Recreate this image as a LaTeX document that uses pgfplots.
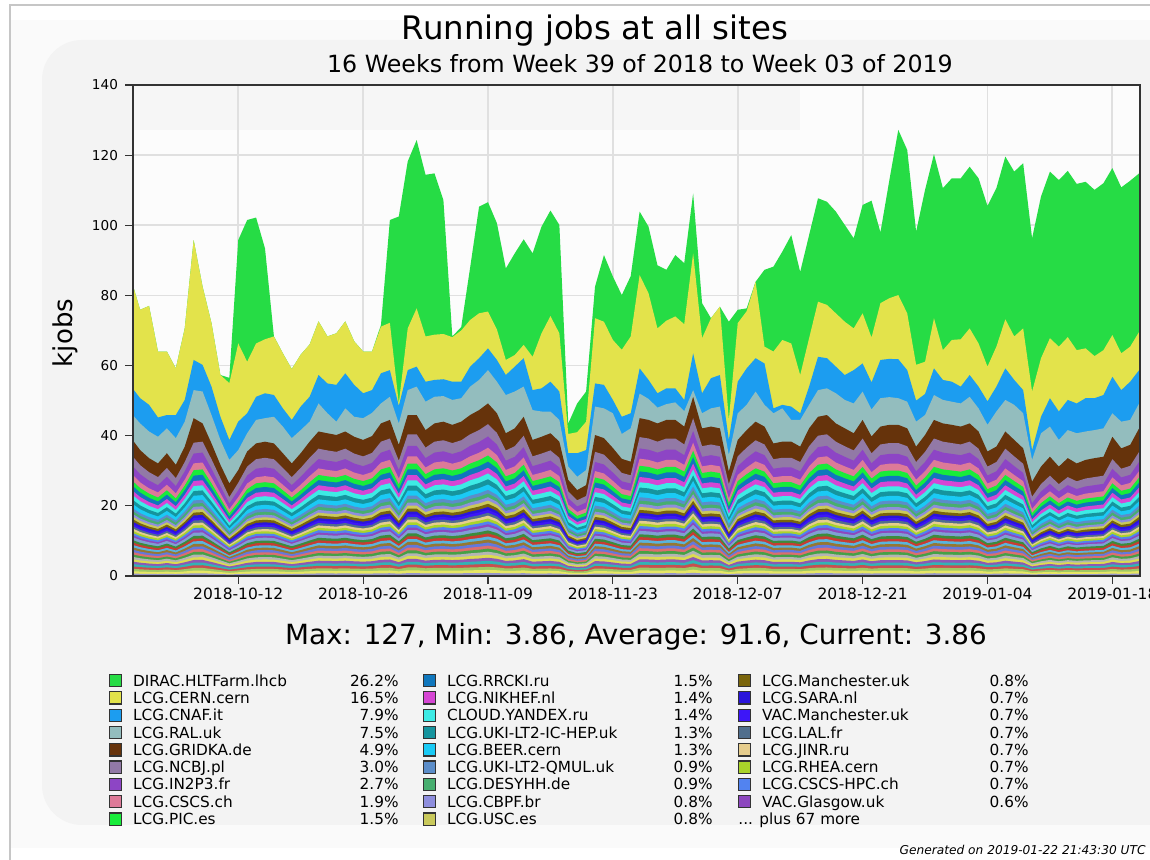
\documentclass[border=0pt]{standalone}
\usepackage{pgfplots}
\usepackage{pgfplotstable}
\pgfplotsset{compat=1.18}
\usepackage{fontspec}
\setmainfont{DejaVu Sans}
\definecolor{cDIRAC}{HTML}{26DC45}
\definecolor{cCERN}{HTML}{E3E34B}
\definecolor{cCNAF}{HTML}{1C9DF0}
\definecolor{cRAL}{HTML}{93BDBE}
\definecolor{cGRIDKA}{HTML}{66330B}
\definecolor{cNCBJ}{HTML}{9279A6}
\definecolor{cIN2P3}{HTML}{8D45C5}
\definecolor{cCSCS}{HTML}{DD7A98}
\definecolor{cPIC}{HTML}{18EC3A}
\definecolor{cRRCKI}{HTML}{1077BD}
\definecolor{cNIKHEF}{HTML}{D646D4}
\definecolor{cYANDEX}{HTML}{3DEBE5}
\definecolor{cIC}{HTML}{15949E}
\definecolor{cBEER}{HTML}{1ACAF5}
\definecolor{cQMUL}{HTML}{5B8DC9}
\definecolor{cDESY}{HTML}{47AE6F}
\definecolor{cCBPF}{HTML}{8E8EDD}
\definecolor{cUSC}{HTML}{C9C95B}
\definecolor{cMAN}{HTML}{7A650B}
\definecolor{cSARA}{HTML}{2A15DB}
\definecolor{cVACM}{HTML}{3D16F8}
\definecolor{cLAL}{HTML}{506E8D}
\definecolor{cJINR}{HTML}{E6CD8D}
\definecolor{cRHEA}{HTML}{A9D42A}
\definecolor{cHPC}{HTML}{5283F0}
\definecolor{cGLA}{HTML}{8D47BF}
\definecolor{o1}{HTML}{7FA0D2}
\definecolor{o2}{HTML}{3C8C3C}
\definecolor{o3}{HTML}{C83C32}
\definecolor{o4}{HTML}{5AB4DC}
\definecolor{o5}{HTML}{967832}
\definecolor{o6}{HTML}{6478DC}
\definecolor{o7}{HTML}{DC6E6E}
\definecolor{o8}{HTML}{46A046}
\definecolor{o9}{HTML}{B4B4B4}
\definecolor{o10}{HTML}{DCDC50}
\definecolor{o11}{HTML}{8C5AB4}
\definecolor{o12}{HTML}{32B4B4}
\definecolor{o13}{HTML}{C85050}
\definecolor{o14}{HTML}{A0C864}
\definecolor{o15}{HTML}{E6E664}
\definecolor{o16}{HTML}{9696C8}
\definecolor{bgo}{HTML}{FAFAFA}
\definecolor{bgc}{HTML}{F3F3F3}
\definecolor{plotbg}{HTML}{FCFCFC}
\definecolor{gridc}{HTML}{E0E0E0}
\definecolor{axc}{HTML}{333333}

\pgfplotstableread{
d G Y C R K B
-12 84.5 84.5 54.0 46.4 39.3 34.6
-11 75.9 75.9 50.7 43.5 35.9 31.6
-10 77.0 77.0 48.8 41.2 33.6 29.6
-9 64.0 64.0 45.2 39.7 32.1 28.2
-8 64.0 64.0 45.9 42.1 35.0 30.8
-7 59.2 59.2 45.9 39.3 31.7 27.9
-6 70.6 70.6 50.2 44.0 36.9 32.5
-5 95.8 95.8 61.6 53.0 45.0 38.0
-4 82.5 82.5 60.2 52.6 43.5 38.3
-3 72.1 72.1 54.0 45.9 37.8 33.3
-2 57.3 57.3 45.4 38.8 31.7 27.9
-1 56.5 55.0 38.8 33.1 26.4 22.5
0 95.8 66.3 44.0 35.9 30.2 26.6
1 101.5 61.1 46.4 40.7 35.5 31.2
2 102.2 66.3 51.1 44.5 37.8 33.3
3 93.4 67.5 52.1 45.0 38.3 33.7
4 68.3 68.3 51.6 45.4 37.8 33.3
5 63.5 63.5 47.8 42.6 35.0 30.8
6 59.0 59.0 44.5 39.3 32.1 28.2
7 63.1 63.1 48.3 41.6 35.0 30.8
8 66.0 66.0 51.1 44.0 38.3 33.7
9 72.6 72.6 57.3 49.2 41.2 36.3
10 68.3 68.3 54.9 46.4 40.7 35.8
11 69.2 69.2 54.5 44.0 40.2 35.4
12 72.6 72.6 57.8 47.8 41.2 36.3
13 66.9 66.9 54.5 45.4 39.7 34.9
14 64.0 64.0 52.1 45.0 38.8 34.1
15 64.0 64.0 53.0 46.5 39.9 35.1
16 71.6 71.1 57.8 49.2 43.5 38.3
17 101.5 72.2 58.7 51.1 44.5 39.2
18 102.5 49.2 48.5 43.5 37.4 32.9
19 118.2 70.6 58.7 53.0 45.9 40.4
20 124.3 76.3 59.7 54.0 45.9 40.4
21 114.4 68.3 55.4 49.7 41.6 36.6
22 114.8 68.8 55.9 51.1 43.5 38.3
23 107.2 69.0 56.1 51.3 44.0 38.7
24 68.3 68.1 55.4 50.2 43.1 37.9
25 71.0 70.0 55.4 50.7 44.0 38.7
26 88.0 73.0 59.7 54.0 45.9 40.4
27 105.3 74.9 62.1 55.9 47.3 41.6
28 106.6 75.4 64.9 58.7 49.2 43.3
29 100.6 70.3 61.6 55.4 46.4 40.8
30 87.7 61.6 57.3 51.6 40.7 35.8
31 92.0 63.0 59.7 52.6 42.1 37.0
32 96.0 65.9 62.1 54.0 45.4 40.0
33 92.0 62.5 53.0 47.3 38.8 34.1
34 99.6 69.2 53.5 46.9 39.7 34.9
35 104.2 74.1 55.4 46.9 40.7 35.8
36 100.1 69.2 52.6 44.5 38.3 33.7
37 43.5 40.5 35.0 31.2 27.4 24.1
38 49.2 41.0 35.0 28.3 24.5 21.6
39 52.6 44.0 35.9 30.2 25.9 22.8
40 82.5 73.5 54.9 48.3 40.2 35.4
41 91.5 72.5 54.5 47.8 39.3 34.6
42 85.4 67.3 50.2 46.4 36.5 32.1
43 80.1 64.5 45.4 40.5 33.4 29.4
44 85.5 68.3 46.4 42.1 32.6 28.7
45 103.9 85.8 59.2 52.0 45.0 39.6
46 99.6 80.6 55.9 50.5 44.5 39.2
47 88.6 70.6 52.1 48.0 43.5 38.3
48 87.3 72.8 53.5 49.0 44.5 39.2
49 91.5 74.0 53.5 49.5 44.5 39.2
50 89.2 71.8 50.2 47.0 42.6 37.5
51 109.1 92.0 63.5 53.0 51.1 45.0
52 77.8 67.8 52.1 46.4 42.1 37.0
53 73.5 73.5 56.4 47.8 42.6 37.5
54 76.8 76.8 57.3 48.3 42.1 37.0
55 72.5 44.5 38.8 34.5 29.8 26.2
56 75.9 72.1 55.4 46.4 38.8 34.1
57 76.3 75.5 59.2 48.8 41.6 36.6
58 83.9 83.9 62.1 52.6 44.0 38.7
59 87.3 65.4 60.6 48.8 42.6 37.5
60 88.2 64.0 47.8 46.4 37.8 33.3
61 92.5 67.3 48.8 47.8 38.3 33.7
62 97.2 66.3 48.3 44.5 38.3 33.7
63 86.7 57.3 46.4 44.5 36.9 32.5
64 97.2 67.8 54.0 48.8 42.1 37.0
65 107.7 78.2 62.5 53.0 45.4 40.0
66 106.7 77.3 62.1 53.5 45.9 40.4
67 103.9 74.9 59.7 52.1 43.5 38.3
68 100.1 72.5 57.3 50.2 42.1 37.0
69 96.3 70.6 58.7 49.2 40.7 35.8
70 105.8 74.9 60.6 52.6 44.5 39.2
71 107.0 68.0 55.2 47.5 39.8 35.0
72 98.0 77.8 61.6 50.7 42.6 37.5
73 112.9 79.2 61.9 51.0 43.1 37.9
74 127.2 80.1 61.8 50.7 43.1 37.9
75 121.5 74.9 58.7 49.7 42.1 37.0
76 98.2 60.2 50.0 44.0 36.9 32.5
77 110.1 61.1 51.9 45.9 40.2 35.4
78 120.3 73.5 59.2 51.6 44.5 39.2
79 110.6 64.4 55.9 50.2 43.5 38.3
80 113.4 67.3 55.4 49.7 43.1 37.9
81 113.4 67.5 54.0 49.2 42.6 37.5
82 116.7 70.6 57.3 51.1 43.5 38.3
83 113.4 66.3 54.0 47.8 41.2 36.3
84 105.5 59.7 49.8 43.1 35.5 31.2
85 110.6 65.4 54.0 46.9 36.9 32.5
86 119.6 73.2 59.2 50.2 41.2 36.3
87 115.3 68.3 55.9 48.8 38.8 34.1
88 117.7 70.6 53.0 46.4 36.4 32.0
89 96.3 52.6 35.9 33.1 26.9 22.6
90 108.2 62.1 45.4 40.7 31.2 26.2
91 115.3 67.8 50.7 42.6 34.0 28.6
92 112.9 65.4 46.9 38.8 31.2 26.2
93 115.5 68.1 50.2 41.6 33.6 28.2
94 111.8 64.4 49.2 40.7 32.1 27.0
95 112.4 64.9 50.7 41.2 33.1 27.8
96 110.1 62.7 50.7 41.6 33.6 28.2
97 112.0 64.4 51.6 42.1 34.0 28.6
98 116.3 68.7 56.8 46.4 39.7 33.3
99 110.8 63.5 53.0 44.0 36.4 30.6
100 112.7 65.4 55.4 44.5 37.4 31.4
101 114.8 69.6 58.7 49.2 42.1 35.4
}\data

\newcommand\lay[2]{\addplot[fill=#1,draw=none] table[x=d,y expr=\thisrow{B}*#2]{\data}\closedcycle;}
\newcommand\main[2]{\addplot[fill=#1,draw=none] table[x=d,y=#2]{\data}\closedcycle;}
\newcommand\legfont{\fontsize{7.65}{9}\selectfont}
% swatch x, text x, pct right x, row, colour, name, pct
\newcommand\leg[7]{%
  \pgfmathsetmacro\yc{860-(680.7+17.3*#4)}%
  \filldraw[fill=#5,draw=axc,line width=0.6pt] (#1,\yc-6.1) rectangle ++(12.3,12.2);
  \node[anchor=base west,inner sep=0pt,font=\legfont] at (#2,\yc-5.5) {#6};
  \node[anchor=base east,inner sep=0pt,font=\legfont] at (#3,\yc-5.5) {#7};
}

\begin{document}
\begin{tikzpicture}[x=0.5pt,y=0.5pt]
\useasboundingbox (0,0) rectangle (1150,860);
\fill[white] (0,0) rectangle (1150,860);
\fill[bgo] (10,12) rectangle (1150,840);
\fill[bgc,rounded corners=20pt] (42,35) rectangle (1220,820);
\draw[gray!45,line width=0.6pt] (10,0) -- (10,855) -- (1150,855);
\fill[plotbg] (133,284) rectangle (1140,775);
\fill[bgc!70!plotbg] (133,730) rectangle (800,775);

\begin{axis}[
  at={(66.5pt,142pt)}, anchor=south west,
  scale only axis, width=503.5pt, height=245.5pt,
  xmin=-11.8, xmax=101.1, ymin=0, ymax=140,
  xtick={0,14,28,42,56,70,84,98},
  xticklabels={2018-10-12,2018-10-26,2018-11-09,2018-11-23,2018-12-07,2018-12-21,2019-01-04,2019-01-18},
  ytick={0,20,...,140},
  tick align=outside, xtick pos=bottom, ytick pos=left,
  major tick length=4pt,
  xmajorgrids, ymajorgrids,
  grid style={draw=gridc,line width=0.9pt},
  axis line style={draw=none},
  tick style={draw=axc,line width=0.6pt},
  xticklabel style={font=\fontsize{7.75}{9}\selectfont,yshift=1.5pt},
  yticklabel style={font=\fontsize{6.8}{8}\selectfont},
  /pgf/number format/assume math mode=true,
  clip mode=individual,
]
\main{cDIRAC}{G}
\main{cCERN}{Y}
\main{cCNAF}{C}
\main{cRAL}{R}
\main{cGRIDKA}{K}
\main{cNCBJ}{B}
\lay{cIN2P3}{0.9186}
\lay{cCSCS}{0.8448}
\lay{cPIC}{0.7935}
\lay{cRRCKI}{0.7531}
\lay{cNIKHEF}{0.7127}
\lay{cYANDEX}{0.675}
\lay{cIC}{0.637}
\lay{cBEER}{0.602}
\lay{cQMUL}{0.567}
\lay{cDESY}{0.5428}
\lay{cCBPF}{0.5186}
\lay{cUSC}{0.497}
\lay{cMAN}{0.4755}
\lay{cSARA}{0.454}
\lay{cVACM}{0.4351}
\lay{cLAL}{0.4162}
\lay{cJINR}{0.3973}
\lay{cRHEA}{0.3785}
\lay{cHPC}{0.3596}
\lay{cGLA}{0.3407}
\lay{o1}{0.3245}
\lay{o2}{0.30}
\lay{o3}{0.28}
\lay{o4}{0.26}
\lay{o5}{0.24}
\lay{o6}{0.22}
\lay{o7}{0.20}
\lay{o8}{0.18}
\lay{o9}{0.16}
\lay{o10}{0.14}
\lay{o11}{0.12}
\lay{o12}{0.10}
\lay{o13}{0.08}
\lay{o14}{0.06}
\lay{o15}{0.04}
\lay{o16}{0.02}
\draw[axc,line width=0.8pt] (rel axis cs:0,0) rectangle (rel axis cs:1,1);
\end{axis}

\node[anchor=base,inner sep=0pt,font=\fontsize{16.2}{19}\selectfont] at (595,820) {Running jobs at all sites};
\node[anchor=base,inner sep=0pt,font=\fontsize{11.85}{14}\selectfont] at (640,787) {16 Weeks from Week 39 of 2018 to Week 03 of 2019};
\node[rotate=90,inner sep=0pt,font=\fontsize{13}{15}\selectfont] at (65,527) {kjobs};
\node[anchor=base,inner sep=0pt,font=\fontsize{13.9}{16}\selectfont] at (636,215) {Max: 127, Min: 3.86, Average: 91.6, Current: 3.86};

\leg{109.3}{132.7}{399}{0}{cDIRAC}{DIRAC.HLTFarm.lhcb}{26.2\%}
\leg{109.3}{132.7}{399}{1}{cCERN}{LCG.CERN.cern}{16.5\%}
\leg{109.3}{132.7}{399}{2}{cCNAF}{LCG.CNAF.it}{7.9\%}
\leg{109.3}{132.7}{399}{3}{cRAL}{LCG.RAL.uk}{7.5\%}
\leg{109.3}{132.7}{399}{4}{cGRIDKA}{LCG.GRIDKA.de}{4.9\%}
\leg{109.3}{132.7}{399}{5}{cNCBJ}{LCG.NCBJ.pl}{3.0\%}
\leg{109.3}{132.7}{399}{6}{cIN2P3}{LCG.IN2P3.fr}{2.7\%}
\leg{109.3}{132.7}{399}{7}{cCSCS}{LCG.CSCS.ch}{1.9\%}
\leg{109.3}{132.7}{399}{8}{cPIC}{LCG.PIC.es}{1.5\%}

\leg{423.3}{446.7}{713}{0}{cRRCKI}{LCG.RRCKI.ru}{1.5\%}
\leg{423.3}{446.7}{713}{1}{cNIKHEF}{LCG.NIKHEF.nl}{1.4\%}
\leg{423.3}{446.7}{713}{2}{cYANDEX}{CLOUD.YANDEX.ru}{1.4\%}
\leg{423.3}{446.7}{713}{3}{cIC}{LCG.UKI-LT2-IC-HEP.uk}{1.3\%}
\leg{423.3}{446.7}{713}{4}{cBEER}{LCG.BEER.cern}{1.3\%}
\leg{423.3}{446.7}{713}{5}{cQMUL}{LCG.UKI-LT2-QMUL.uk}{0.9\%}
\leg{423.3}{446.7}{713}{6}{cDESY}{LCG.DESYHH.de}{0.9\%}
\leg{423.3}{446.7}{713}{7}{cCBPF}{LCG.CBPF.br}{0.8\%}
\leg{423.3}{446.7}{713}{8}{cUSC}{LCG.USC.es}{0.8\%}

\leg{738.3}{761.7}{1029}{0}{cMAN}{LCG.Manchester.uk}{0.8\%}
\leg{738.3}{761.7}{1029}{1}{cSARA}{LCG.SARA.nl}{0.7\%}
\leg{738.3}{761.7}{1029}{2}{cVACM}{VAC.Manchester.uk}{0.7\%}
\leg{738.3}{761.7}{1029}{3}{cLAL}{LCG.LAL.fr}{0.7\%}
\leg{738.3}{761.7}{1029}{4}{cJINR}{LCG.JINR.ru}{0.7\%}
\leg{738.3}{761.7}{1029}{5}{cRHEA}{LCG.RHEA.cern}{0.7\%}
\leg{738.3}{761.7}{1029}{6}{cHPC}{LCG.CSCS-HPC.ch}{0.7\%}
\leg{738.3}{761.7}{1029}{7}{cGLA}{VAC.Glasgow.uk}{0.6\%}
\node[anchor=base west,inner sep=0pt,font=\legfont] at (738,{860-(680.7+17.3*8)-5.5}) {... plus 67 more};

\node[anchor=base east,inner sep=0pt,font=\fontsize{6.1}{7}\selectfont\itshape] at (1146,5) {Generated on 2019-01-22 21:43:30 UTC};
\end{tikzpicture}
\end{document}
